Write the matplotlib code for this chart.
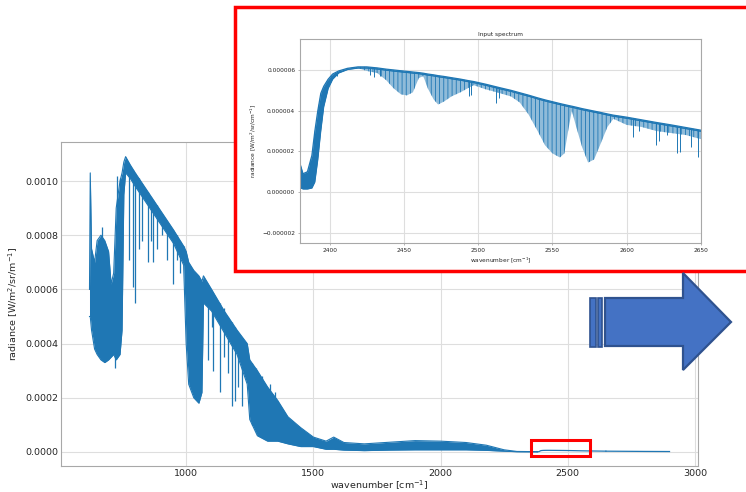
import numpy as np
import matplotlib
matplotlib.use("Agg")
import matplotlib.pyplot as plt
from matplotlib.patches import Rectangle, Polygon
from matplotlib.ticker import FuncFormatter

# ---------------- data ----------------
# main spectrum band: wavenumber [cm-1], upper and lower envelope [W/m2/sr/m-1]
main_wn = [620, 623, 628, 640, 650, 665, 680, 695, 705, 715, 725, 740, 748, 755, 762,
           780, 800, 850, 900, 950, 990, 1000, 1010, 1030, 1050, 1062, 1068, 1100,
           1150, 1200, 1240, 1250, 1280, 1320, 1360, 1400, 1450, 1500, 1550, 1580,
           1620, 1700, 1800, 1900, 2000, 2100, 2180, 2250, 2300, 2380]
main_upper = [0.00060, 0.00103, 0.00075, 0.00070, 0.00078, 0.00080, 0.00078, 0.00074,
              0.00062, 0.00066, 0.00090, 0.00100, 0.00103, 0.00107, 0.00109,
              0.00106, 0.00103, 0.00096, 0.00089, 0.00082, 0.00076, 0.00074, 0.00070,
              0.00067, 0.00065, 0.00063, 0.00065, 0.00060, 0.00052, 0.00045, 0.00040,
              0.00034, 0.00030, 0.00024, 0.00019, 0.00013, 0.00009, 0.000055, 0.000040,
              0.000055, 0.000035, 0.000030, 0.000036, 0.000042, 0.000040, 0.000035,
              0.000025, 0.000008, 0.000002, 0.0000012]
main_lower = [0.00050, 0.00050, 0.00045, 0.00038, 0.00036, 0.00034, 0.00033, 0.00034,
              0.00035, 0.00036, 0.00034, 0.00036, 0.00045, 0.00095, 0.00103,
              0.00101, 0.00098, 0.00091, 0.00084, 0.00077, 0.00069, 0.00040, 0.00025,
              0.00020, 0.00018, 0.00022, 0.00055, 0.00052, 0.00044, 0.00036, 0.00025,
              0.00012, 0.00006, 0.00004, 0.00004, 0.00003, 0.00002, 0.00002, 0.000010,
              0.000010, 0.000007, 0.000005, 0.000007, 0.000008, 0.000008, 0.000008,
              0.000006, 0.000003, 0.000001, 0.0000005]

# individual lines in the main spectrum: position, bottom, top
spike_wn = [669, 721, 728, 741, 776, 792, 800, 815, 827, 851, 862, 870, 886, 906, 925,
            950, 963, 976, 990, 1086, 1102, 1107, 1133, 1147, 1166, 1180, 1192, 1205,
            1220, 1260, 1275, 1300, 1330, 1350]
spike_bottom = [0.00050, 0.00031, 0.00050, 0.00060, 0.00071, 0.00061, 0.00055, 0.00075,
                0.00078, 0.00070, 0.00078, 0.00070, 0.00075, 0.00080, 0.00071,
                0.00062, 0.00071, 0.00066, 0.00071, 0.00034, 0.00046, 0.00030, 0.00022,
                0.00035, 0.00029, 0.00017, 0.00019, 0.00024, 0.00017, 0.00010, 0.00008,
                0.00006, 0.00005, 0.00005]
spike_top = [0.00083, 0.00060, 0.00102, 0.00101, 0.00106, 0.00104, 0.00103, 0.00101,
             0.00099, 0.00096, 0.00094, 0.00093, 0.00091, 0.00088, 0.00085,
             0.00082, 0.00080, 0.00078, 0.00076, 0.00061, 0.00059, 0.00058, 0.00055,
             0.00053, 0.00050, 0.00048, 0.00046, 0.00044, 0.00042, 0.00033, 0.00031,
             0.00028, 0.00025, 0.00022]

# tail of the spectrum beyond the inset range
tail_wn = [2650, 2700, 2750, 2800, 2850, 2900]
tail_vals = [3.0e-6, 2.7e-6, 2.4e-6, 2.1e-6, 1.9e-6, 1.7e-6]

# inset spectrum (2380-2650 cm-1), values in 1e-6 W/m2/sr/cm-1
inset_wn = [2380, 2382, 2385, 2388, 2390, 2392, 2394, 2396, 2399, 2402, 2406, 2412, 2419,
            2425, 2432, 2438, 2443, 2448, 2452, 2456, 2460, 2463, 2466, 2470, 2473,
            2477, 2482, 2488, 2493, 2497, 2505, 2515, 2522, 2528, 2534, 2540, 2545,
            2550, 2555, 2558, 2561, 2563, 2566, 2570, 2574, 2578, 2582, 2587, 2591,
            2600, 2610, 2620, 2630, 2640, 2650]
inset_upper = [1.4, 0.9, 1.0, 1.8, 3.0, 4.0, 4.85, 5.2, 5.55, 5.8, 5.95, 6.08, 6.15,
               6.15, 6.1, 6.04, 6.0, 5.96, 5.93, 5.9, 5.87, 5.84, 5.8, 5.76, 5.72,
               5.68, 5.62, 5.55, 5.48, 5.43, 5.3, 5.12, 5.0, 4.88, 4.76, 4.63, 4.53,
               4.44, 4.35, 4.3, 4.25, 4.22, 4.17, 4.1, 4.04, 3.98, 3.92, 3.84, 3.78,
               3.68, 3.55, 3.42, 3.3, 3.17, 3.04]
inset_lower = [0.2, 0.15, 0.15, 0.2, 0.5, 1.6, 3.0, 4.2, 5.1, 5.55, 5.85, 6.02, 6.09,
               6.09, 6.04, 5.98, 5.94, 5.9, 5.87, 5.84, 5.81, 5.78, 5.74, 5.7, 5.66,
               5.62, 5.56, 5.49, 5.42, 5.37, 5.24, 5.06, 4.94, 4.82, 4.7, 4.57, 4.47,
               4.38, 4.29, 4.24, 4.19, 4.16, 4.11, 4.04, 3.98, 3.92, 3.86, 3.78, 3.72,
               3.62, 3.49, 3.36, 3.24, 3.11, 2.98]
inset_trough = [0.2, 0.15, 0.15, 0.2, 0.5, 1.6, 3.0, 4.2, 5.1, 5.55, 5.85, 6.02, 6.09,
                5.95, 5.85, 5.5, 5.1, 4.8, 4.75, 4.9, 5.6, 5.7, 5.1, 4.55, 4.3,
                4.45, 4.7, 4.9, 5.1, 5.25, 5.05, 4.85, 4.7, 4.4, 3.8, 3.0, 2.3,
                1.9, 1.7, 1.9, 3.2, 4.0, 3.2, 2.2, 1.45, 1.6, 2.3, 3.2, 3.6,
                3.3, 3.2, 3.0, 2.9, 2.8, 2.6]
inset_spike_wn = [2405, 2427, 2430, 2434, 2494, 2495, 2512, 2514, 2604, 2608, 2620,
                  2622, 2627, 2634, 2636, 2643, 2648]
inset_spike_bottom = [5.7, 5.75, 5.65, 5.7, 4.7, 4.75, 4.4, 4.6, 2.7, 3.0, 2.3,
                      2.5, 2.8, 1.9, 1.95, 2.2, 1.7]
inset_spike_top = [5.95, 6.15, 6.12, 6.08, 5.48, 5.47, 5.16, 5.13, 3.66, 3.6, 3.42,
                   3.4, 3.34, 3.25, 3.23, 3.14, 3.07]

main_xticks = [1000, 1500, 2000, 2500, 3000]
main_yticks = [0.0, 0.0002, 0.0004, 0.0006, 0.0008, 0.0010]
inset_xticks = [2400, 2450, 2500, 2550, 2600, 2650]
inset_yticks = [-2e-6, 0.0, 2e-6, 4e-6, 6e-6]

# ---------------- styling ----------------
C = '#1f77b4'
GRID = '#dedede'
SPINE = '#a8a8a8'
TXT = '#262626'
plt.rcParams['font.family'] = ['DejaVu Sans']
plt.rcParams['hatch.linewidth'] = 0.6

W, H = 746, 492
def fx(px):
    return px / W
def fy(py):
    return 1 - py / H

fig = plt.figure(figsize=(W / 100, H / 100), dpi=100)

def style(ax, fs, ticklen):
    ax.grid(True, color=GRID, lw=0.8)
    ax.set_axisbelow(True)
    for s in ax.spines.values():
        s.set_color(SPINE)
        s.set_linewidth(0.8)
    ax.tick_params(colors=SPINE, labelcolor=TXT, labelsize=fs, length=ticklen,
                   width=0.6, pad=2)

# ---------------- main chart ----------------
ax = fig.add_axes([fx(61), fy(466), fx(698) - fx(61), fy(142) - fy(466)])
style(ax, 6.8, 0)
ax.fill_between(main_wn, main_lower, main_upper, color=C, lw=0)
ax.plot(main_wn, main_upper, color=C, lw=0.8)
ax.plot(main_wn, main_lower, color=C, lw=0.8)
ax.vlines(spike_wn, spike_bottom, spike_top, color=C, lw=0.9)
ax.plot(inset_wn, np.array(inset_upper) * 1e-6, color=C, lw=0.9)
ax.plot(tail_wn, tail_vals, color=C, lw=0.9)
ax.set_xlim(508, 3012)
ax.set_ylim(-0.0000517, 0.001144)
ax.set_xticks(main_xticks)
ax.set_yticks(main_yticks)
ax.yaxis.set_major_formatter(FuncFormatter(lambda v, p: f"{v:.4f}"))
ax.set_xlabel('wavenumber [cm$^{-1}$]', fontsize=6.8, color=TXT, labelpad=0.5)
ax.set_ylabel('radiance [W/m$^2$/sr/m$^{-1}$]', fontsize=6.8, color=TXT, labelpad=4)
ax.add_patch(Rectangle((2355, -0.0000148), 232, 0.000059, fill=False, ec='red',
                       lw=2.2, clip_on=False, zorder=5))

# ---------------- inset frame ----------------
fig.patches.append(Rectangle((fx(235), fy(271)), 1.2, fy(7) - fy(271),
                             transform=fig.transFigure, fc='white', ec='red',
                             lw=2.5, zorder=1))

# ---------------- inset chart ----------------
ax2 = fig.add_axes([fx(300), fy(243), fx(701) - fx(300), fy(39) - fy(243)])
ax2.set_zorder(2)
style(ax2, 4.2, 1.5)
iu = np.array(inset_upper) * 1e-6
il = np.array(inset_lower) * 1e-6
it = np.array(inset_trough) * 1e-6
ax2.fill_between(inset_wn, it, iu, facecolor='#8fbbd9', edgecolor=C, hatch='||||', lw=0)
ax2.fill_between(inset_wn, il, iu, color=C, lw=0)
ax2.plot(inset_wn, iu, color=C, lw=0.9)
ax2.plot(inset_wn, il, color=C, lw=0.5)
ax2.vlines(inset_spike_wn, np.array(inset_spike_bottom) * 1e-6,
           np.array(inset_spike_top) * 1e-6, color=C, lw=0.7)
ax2.set_xlim(2380, 2650)
ax2.set_ylim(-2.5e-6, 7.52e-6)
ax2.set_xticks(inset_xticks)
ax2.set_yticks(inset_yticks)
ax2.yaxis.set_major_formatter(FuncFormatter(lambda v, p: f"{v:.6f}".replace('-', '\u2212')))
ax2.set_xlabel('wavenumber [cm$^{-1}$]', fontsize=4.2, color=TXT, labelpad=1.5)
ax2.set_ylabel('radiance [W/m$^2$/sr/cm$^{-1}$]', fontsize=4.2, color=TXT, labelpad=3)
ax2.set_title('Input spectrum', fontsize=4.2, color=TXT, pad=2)

# ---------------- block arrow ----------------
arrow_px = [(605, 298), (683, 298), (683, 273), (731, 322), (683, 370), (683, 346), (605, 346)]
fig.patches.append(Polygon([(fx(x), fy(y)) for x, y in arrow_px], closed=True,
                           transform=fig.transFigure, fc='#4472C4', ec='#2F528F',
                           lw=1.6, zorder=3))
for x0, x1 in [(590, 596), (598, 602)]:
    fig.patches.append(Rectangle((fx(x0), fy(347)), fx(x1) - fx(x0), fy(298) - fy(347),
                                 transform=fig.transFigure, fc='#4472C4', ec='#2F528F',
                                 lw=1.2, zorder=3))

fig.savefig('out.png', dpi=100)
